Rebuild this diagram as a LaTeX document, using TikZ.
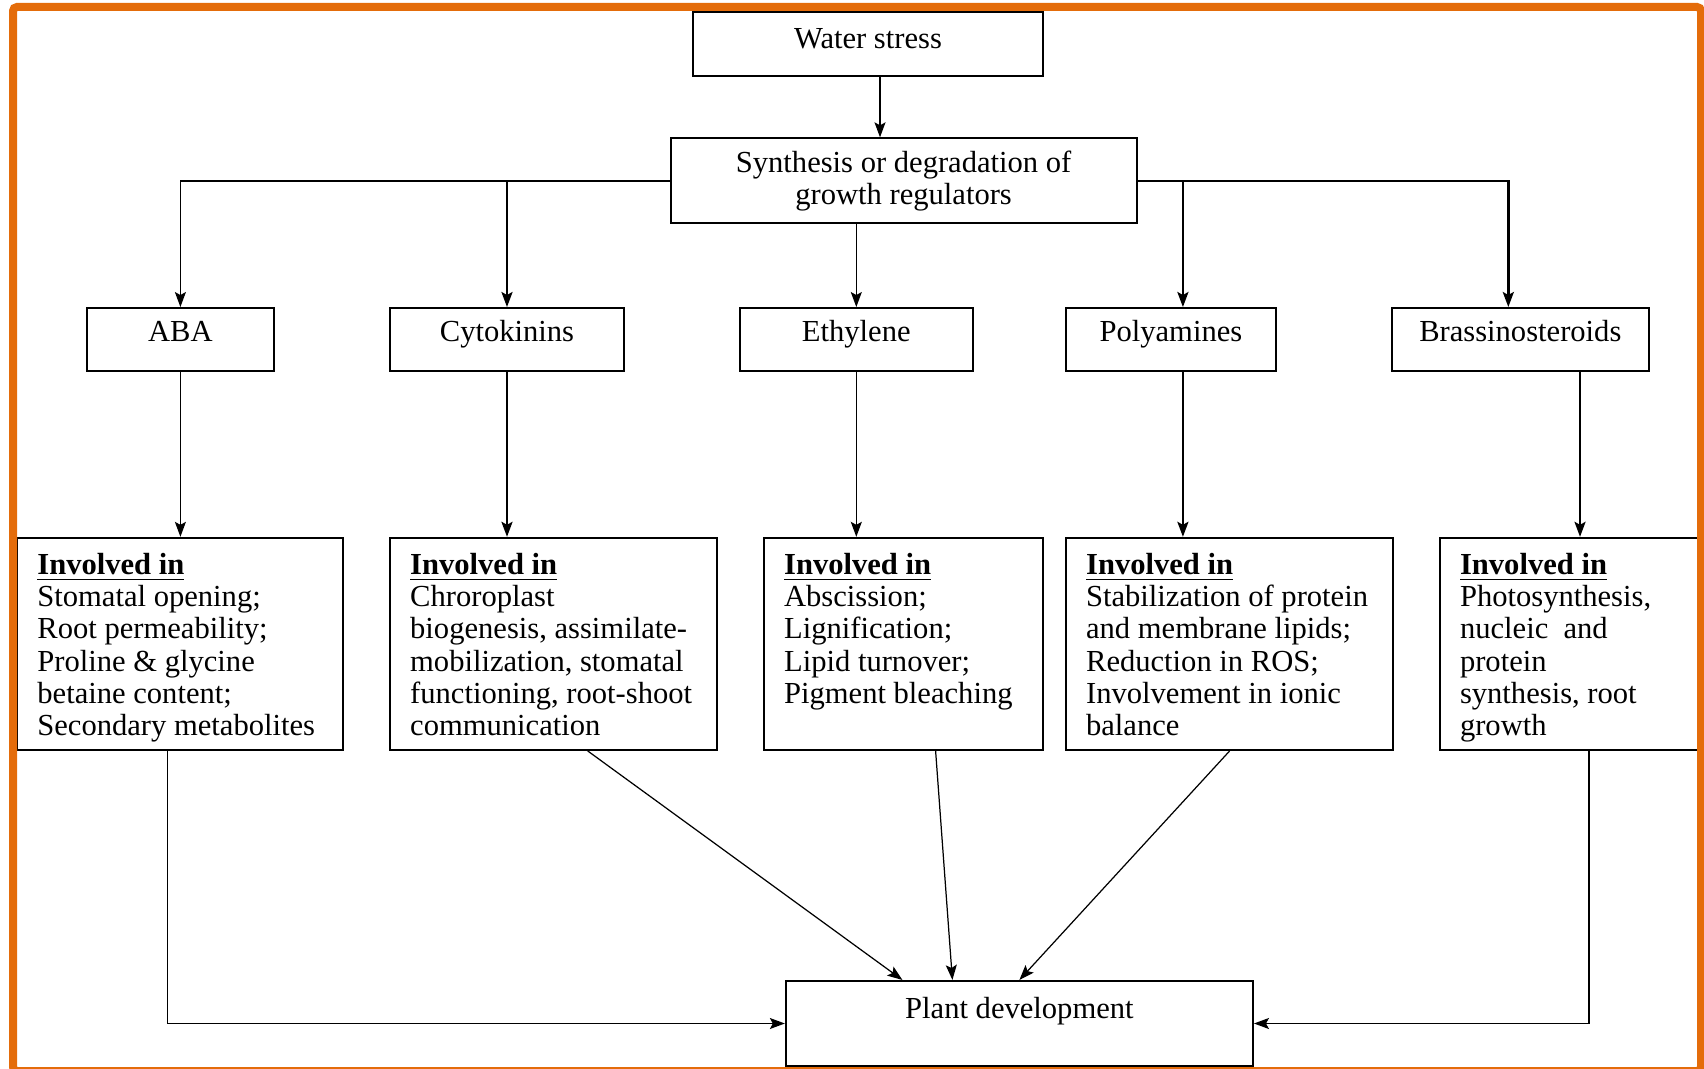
\documentclass[tikz,border=0pt]{standalone}
\usepackage{fontspec}
\setmainfont{Liberation Serif}
\usetikzlibrary{arrows.meta}
\definecolor{frameorange}{HTML}{E46C0A}

\begin{document}
\begin{tikzpicture}[
    box/.style={draw, rectangle, line width=0.6pt, align=center,
      font=\fontsize{8.7pt}{9.2pt}\selectfont},
    regulator/.style={box, minimum height=0.63cm, text height=0.2cm, text depth=0.17cm},
    effect/.style={box, align=left, inner xsep=0.2cm, inner ysep=0.15cm, minimum height=2.12cm},
    link/.style={-{Stealth[length=1.5mm,width=1.1mm,inset=0.3mm]}, line width=0.35pt},
    boldlink/.style={link, line width=0.7pt}]
  \useasboundingbox (0,0) rectangle (17.04,-10.69);
  % --- Helper: \involved{width}{lines} ---
  % Top-aligned text block with the underlined heading.
  \newcommand{\involved}[2]{%
    \parbox[t][1.82cm][t]{#1}{\textbf{\underline{Involved in}}\\#2}}
  % Stress and its first effect.
  \node[box, minimum width=3.50cm, minimum height=0.64cm, text height=0.2cm, text depth=0.1cm]
    (stress) at (8.68,-0.44) {Water stress};
  \node[box, minimum width=4.66cm, minimum height=0.85cm] (synth) at (9.036,-1.809)
    {Synthesis or degradation of\\growth regulators};
  % The five growth regulators.
  \node[regulator, minimum width=1.87cm] (aba)   at (1.804,-3.396)  {ABA};
  \node[regulator, minimum width=2.34cm] (cyto)  at (5.07,-3.396)   {Cytokinins};
  \node[regulator, minimum width=2.33cm] (eth)   at (8.563,-3.396)  {Ethylene};
  \node[regulator, minimum width=2.10cm] (poly)  at (11.709,-3.396) {Polyamines};
  \node[regulator, minimum width=2.57cm] (brass) at (15.203,-3.396) {Brassinosteroids};
  % What each regulator is involved in.
  \node[effect] (aba3) at (1.804,-6.439) {\involved{2.86cm}{Stomatal opening;\\Root permeability;\\
    Proline \& glycine\\betaine content;\\Secondary metabolites}};
  \node[effect] (cyto3) at (5.537,-6.439) {\involved{2.87cm}{Chroroplast\\biogenesis, assimilate-\\
    mobilization, stomatal\\functioning, root-shoot\\communication}};
  \node[effect] (eth3) at (9.036,-6.439) {\involved{2.39cm}{Abscission;\\Lignification;\\
    Lipid turnover;\\Pigment bleaching}};
  \node[effect] (poly3) at (12.296,-6.439) {\involved{2.87cm}{Stabilization of protein\\
    and membrane lipids;\\Reduction in ROS;\\Involvement in ionic\\balance}};
  \node[effect] (brass3) at (15.70,-6.439) {\involved{2.2cm}{Photosynthesis,\\nucleic\ \ and\\
    protein\\synthesis, root\\growth}};
  \node[box, minimum width=4.67cm, minimum height=0.85cm, text height=0.2cm, text depth=0.3cm]
    (pd) at (10.194,-10.235) {Plant development};
  % Stress down to the regulators.
  \draw[link] ([xshift=0.12cm]stress.south) -- ([xshift=0.12cm]stress.south |- synth.north);
  \draw[link] (synth.west) -| (aba.north);
  \draw[boldlink] (cyto.north |- synth.west) -- (cyto.north);
  \draw[link] (synth.south -| eth.north) -- (eth.north);
  \draw[boldlink] ([xshift=0.12cm]poly.north |- synth.east) -- ([xshift=0.12cm]poly.north);
  \draw[boldlink] (synth.east) -| ([xshift=-0.12cm]brass.north);
  % Regulators down to their roles.
  \draw[link] (aba.south) -- (aba3.north);
  \draw[boldlink] (cyto.south) -- (cyto.south |- cyto3.north);
  \draw[link] (eth.south) -- (eth.south |- eth3.north);
  \draw[boldlink] ([xshift=0.12cm]poly.south) -- ([xshift=0.12cm]poly.south |- poly3.north);
  \draw[boldlink] ([xshift=0.1cm]brass3.north |- brass.south) -- ([xshift=0.1cm]brass3.north);
  % Roles into plant development.
  \draw[link] ([xshift=-0.13cm]aba3.south) |- (pd.west);
  \draw[link] ([xshift=0.34cm]cyto3.south) -- ([xshift=-1.17cm]pd.north);
  \draw[link] ([xshift=0.32cm]eth3.south) -- ([xshift=-0.67cm]pd.north);
  \draw[link] (poly3.south) -- (pd.north);
  \draw[link] ([xshift=0.19cm]brass3.south) |- (pd.east);
  % Orange frame on top.
  \draw[frameorange, line width=0.08cm, rounded corners=0.4mm] (0.13,-0.07) rectangle (17.01,-10.71);
\end{tikzpicture}
\end{document}
